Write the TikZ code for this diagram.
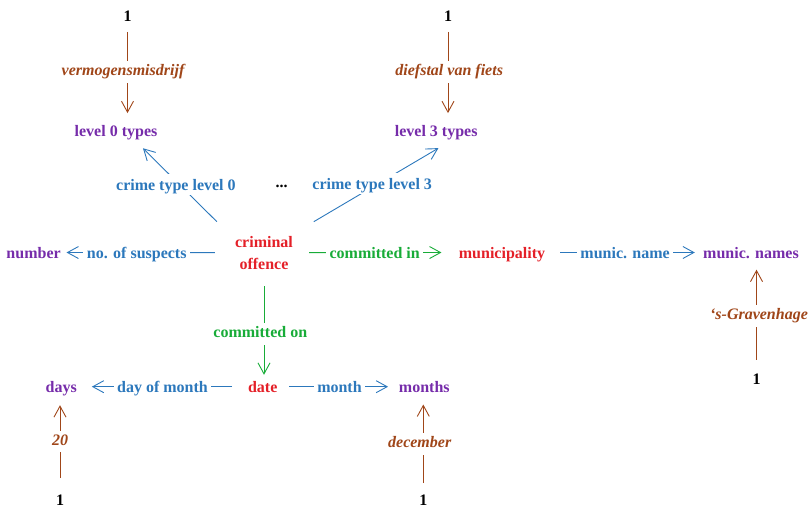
\documentclass[tikz,border=0pt]{standalone}
\usepackage{fontspec}
\setmainfont{Liberation Serif}
\usetikzlibrary{arrows.meta}
\definecolor{cred}{RGB}{228,32,40}
\definecolor{cpurple}{RGB}{118,44,170}
\definecolor{cblue}{RGB}{44,120,188}
\definecolor{cgreen}{RGB}{24,172,56}
\definecolor{cbrown}{RGB}{160,70,25}
\begin{document}
\begin{tikzpicture}[x=1pt,y=-1pt,
  font=\bfseries\fontsize{16}{22}\selectfont,
  nd/.style={inner sep=0pt, text height=12pt, text depth=0pt},
  cls/.style={nd, text=cpurple},
  ent/.style={nd, text=cred},
  one/.style={nd, text=black},
  hl/.style={fill=white, inner xsep=3.5pt, inner ysep=4.5pt, text height=12pt, text depth=0pt},
  vbox/.style={fill=white, inner xsep=3pt, inner ysep=3.5pt, text height=11pt, text depth=3.5pt},
  valfont/.style={font=\bfseries\itshape\fontsize{16}{22}\selectfont},
  ed/.style={line width=0.9pt, -{Straight Barb[length=11pt,width=12pt]}},
  blueedge/.style={ed, color=cblue},
  greenedge/.style={ed, color=cgreen},
  brownedge/.style={ed, color=cbrown}]
\useasboundingbox (0,0) rectangle (809,508);

% nodes
\node[one] (t1) at (127.5,16) {1};
\node[one] (t2) at (448,16) {1};
\node[cls] (l0) at (116,130.5) {level 0 types};
\node[cls] (l3) at (436.2,130.5) {level 3 types};
\node[one] (dots) at (281.5,181) {...};
\node[inner sep=0pt, text=cred, align=center] (off) at (264,252.6) {criminal\\offence};
\node[cls] (number) at (33.6,252.5) {number};
\node[ent] (muni) at (502,252.5) {municipality};
\node[cls] (mnames) at (751,252.5) {munic. names};
\node[ent] (date) at (262.7,386.7) {date};
\node[cls] (days) at (61.3,386.7) {days};
\node[cls] (months) at (424.3,386.7) {months};
\node[one] (b1) at (756.5,378) {1};
\node[one] (b2) at (60,499.5) {1};
\node[one] (b3) at (423.3,499.5) {1};

% relation edges
\draw[blueedge, shorten <=20.1pt, shorten >=5.6pt] (off) -- node[hl, pos=0.564] {no. of suspects} (number);
\draw[greenedge, shorten <=16.1pt, shorten >=17.2pt] (off) -- node[hl, pos=0.493] {committed in} (muni);
\draw[blueedge, shorten <=14.9pt, shorten >=8.2pt] (muni) -- node[hl, pos=0.506] {munic. name} (mnames);
\draw[blueedge, shorten <=15.7pt, shorten >=14.8pt] (date) -- node[hl] {day of month} (days);
\draw[blueedge, shorten <=11.7pt, shorten >=10.7pt] (date) -- node[hl, pos=0.511] {month} (months);
\draw[blueedge, shorten <=25.5pt, shorten >=16.4pt] (off.156.3) -- node[hl, pos=0.536, xshift=-3.5pt] {crime type level 0} (l0.-22.8);
\draw[blueedge, shorten <=27.7pt, shorten >=22.5pt] (off.33.1) -- node[hl, pos=0.524, xshift=-5.7pt] {crime type level 3} (l3.-16.6);
\draw[greenedge, shorten <=17pt, shorten >=5.7pt] (off.south) -- node[vbox, pos=0.58, xshift=-3.7pt] {committed on} (off.south |- date.north);

% value edges
\draw[brownedge, shorten <=9.7pt, shorten >=11.2pt] (t1.south) -- node[vbox, valfont, pos=0.49, xshift=-4.5pt] {vermogensmisdrijf} (t1.south |- l0.north);
\draw[brownedge, shorten <=9.7pt, shorten >=11.2pt] (t2.south) -- node[vbox, valfont, pos=0.49, xshift=1.2pt] {diefstal van fiets} (t2.south |- l3.north);
\draw[brownedge, shorten <=12pt, shorten >=11pt] (b1.north) -- node[vbox, valfont, pos=0.493, xshift=2.5pt] {‘s-Gravenhage} (b1.north |- mnames.south);
\draw[brownedge, shorten <=15.2pt, shorten >=12.3pt] (b2.north) -- node[vbox, valfont, pos=0.515] {20} (b2.north |- days.south);
\draw[brownedge, shorten <=10.2pt, shorten >=11.6pt] (b3.north) -- node[vbox, valfont, pos=0.49, xshift=-3.6pt] {december} (b3.north |- months.south);
\end{tikzpicture}
\end{document}
